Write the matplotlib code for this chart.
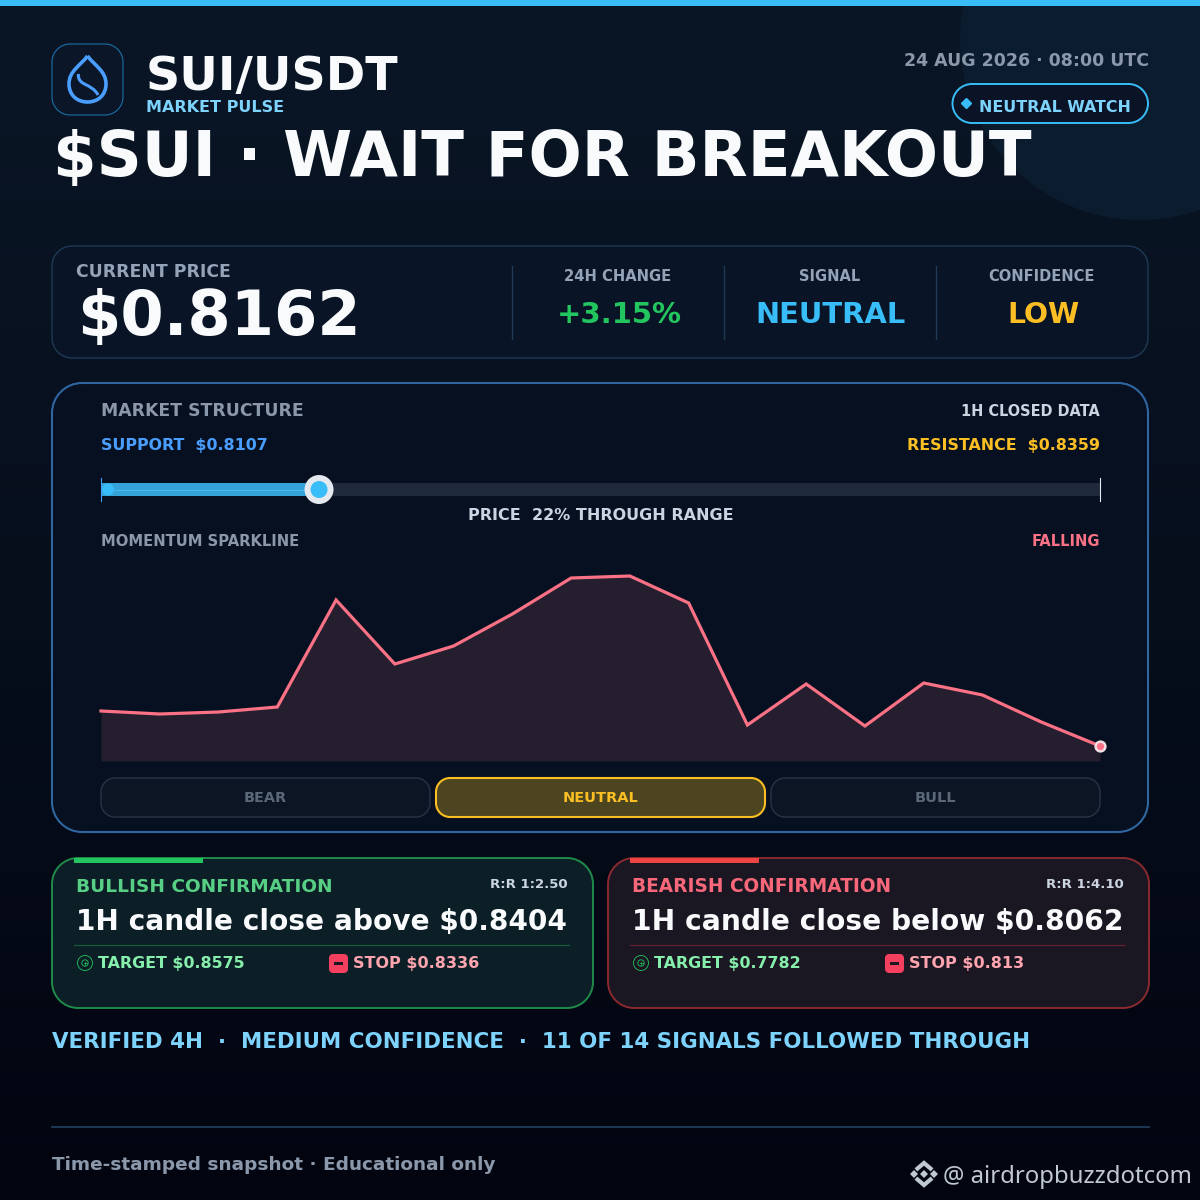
import numpy as np
import matplotlib
matplotlib.use("Agg")
import matplotlib.pyplot as plt
from matplotlib.patches import Circle, PathPatch, Rectangle
from matplotlib.path import Path

# data
support = 0.8107
resistance = 0.8359
price = 0.8162
spark_values = [50, 47, 49, 54, 161, 97, 115, 147, 183, 185, 158, 36, 77, 35, 78, 66, 39, 15]
stat_labels = ["24H CHANGE", "SIGNAL", "CONFIDENCE"]
stat_values = ["+3.15%", "NEUTRAL", "LOW"]
stat_colors = ["#22c55e", "#38bdf8", "#fbbf24"]
bias_labels = ["BEAR", "NEUTRAL", "BULL"]

fig = plt.figure(figsize=(12, 12), dpi=100)
ax = fig.add_axes([0, 0, 1, 1])
ax.set_xlim(0, 1200)
ax.set_ylim(1200, 0)
ax.axis("off")
renderer = fig.canvas.get_renderer()


def txt(x, y, s, px, color, w=None, ha="left", weight="bold", family="DejaVu Sans", z=10):
    # px is the font size in pixels, w squeezes the text to a measured width
    t = ax.text(x, y, s, fontsize=px * 0.72, color=color, ha=ha, va="baseline",
                fontweight=weight, family=family, zorder=z)
    if w is not None:
        bb = t.get_window_extent(renderer)
        t.set_fontsize(px * 0.72 * w / bb.width)
    return t


def box(x0, y0, x1, y1, r, fc, ec, lw=1.0, z=2):
    # rounded box with proper circular corners
    k = r * 0.448
    verts = [(x0 + r, y0), (x1 - r, y0),
             (x1 - k, y0), (x1, y0 + k), (x1, y0 + r), (x1, y1 - r),
             (x1, y1 - k), (x1 - k, y1), (x1 - r, y1), (x0 + r, y1),
             (x0 + k, y1), (x0, y1 - k), (x0, y1 - r), (x0, y0 + r),
             (x0, y0 + k), (x0 + k, y0), (x0 + r, y0), (x0 + r, y0)]
    codes = [Path.MOVETO, Path.LINETO,
             Path.CURVE4, Path.CURVE4, Path.CURVE4, Path.LINETO,
             Path.CURVE4, Path.CURVE4, Path.CURVE4, Path.LINETO,
             Path.CURVE4, Path.CURVE4, Path.CURVE4, Path.LINETO,
             Path.CURVE4, Path.CURVE4, Path.CURVE4, Path.CLOSEPOLY]
    p = PathPatch(Path(verts, codes), fc=fc, ec=ec, lw=lw, zorder=z)
    ax.add_patch(p)
    return p


# background
grad = np.linspace(0, 1, 256)[:, None]
top = np.array([10, 22, 38]) / 255
bottom = np.array([2, 5, 16]) / 255
ramp = top + (bottom - top) * grad[:, :, None] ** 1.1
ax.imshow(ramp, extent=[0, 1200, 1200, 0], aspect="auto", zorder=0)
ax.set_xlim(0, 1200)
ax.set_ylim(1200, 0)
ax.add_patch(Circle((1140, 40), 180, fc="#0b1c2e", ec="none", zorder=1))
ax.add_patch(Rectangle((0, 0), 1200, 6, fc="#38bdf8", ec="none", zorder=3))

# logo
box(52, 44, 123, 115, 18, "#0b1728", "#1a6fa8", 0.8)
drop = Path([(87.5, 56), (80, 66), (69, 71), (69, 84), (69, 95), (77, 102), (87.5, 102),
             (98, 102), (106, 95), (106, 84), (106, 71), (95, 66), (87.5, 56)],
            [Path.MOVETO] + [Path.CURVE4] * 12)
ax.add_patch(PathPatch(drop, fc="none", ec="#4a9eff", lw=2.6, zorder=4))
swirl = Path([(78.5, 74), (77, 86), (92, 83), (98, 95)],
             [Path.MOVETO] + [Path.CURVE4] * 3)
ax.add_patch(PathPatch(swirl, fc="none", ec="#4a9eff", lw=2.2, zorder=4))

# header
txt(146, 90, "SUI/USDT", 48, "#f8fafc", w=252)
txt(146, 112, "MARKET PULSE", 16, "#7dd3fc", w=138)
txt(53, 176, "$SUI · WAIT FOR BREAKOUT", 64, "#f8fafc", w=978)
txt(1149, 66, "24 AUG 2026 · 08:00 UTC", 17, "#8b98ab", w=245, ha="right")
box(952.5, 84, 1148, 123, 19.5, "#0a1426", "#38bdf8", 1.4, z=4)
ax.plot([966], [103], marker="D", ms=5, color="#38bdf8", zorder=5)
txt(979, 112, "NEUTRAL WATCH", 16.5, "#7dd3fc", w=152)

# price panel
box(52, 246, 1148, 358, 20, "#091426", "#1e3a55", 1.0)
txt(76, 277, "CURRENT PRICE", 15, "#94a3b8", w=155)
txt(77, 335, f"${price}", 62, "#f8fafc", w=284)
for xs in [512, 724, 936]:
    ax.plot([xs, xs], [266, 339], color="#1e3a55", lw=1, zorder=3)
stat_w = [107, 61, 106]
val_w = [125, 151, 72]
for xc, lab, val, col, lw_, vw in zip([618, 830, 1042], stat_labels, stat_values, stat_colors, stat_w, val_w):
    txt(xc - 0.5, 281, lab, 14, "#94a3b8", ha="center", w=lw_)
    txt(xc + 1, 323, val, 28, col, ha="center", w=vw)

# market structure panel
box(52, 383, 1148, 832, 30, "#061020", "#2f66a0", 1.5)
txt(101, 416, "MARKET STRUCTURE", 16, "#8b98ab", w=202)
txt(1100, 416, "1H CLOSED DATA", 14, "#cbd5e1", w=139, ha="right")
txt(101, 450, f"SUPPORT  ${support}", 15, "#4a9eff", w=168)
txt(1100, 450, f"RESISTANCE  ${resistance}", 15, "#fbbf24", w=194, ha="right")

# range bar
frac = (price - support) / (resistance - support)
bar_x0, bar_x1 = 101, 1100
handle_x = bar_x0 + frac * (bar_x1 - bar_x0)
ax.add_patch(Rectangle((bar_x0, 483), bar_x1 - bar_x0, 13, fc="#1e293b", ec="none", zorder=3))
ax.add_patch(Rectangle((bar_x0, 483), handle_x - bar_x0, 13, fc="#34a3d8", ec="none", zorder=4))
ax.plot([bar_x0, handle_x], [489.5, 489.5], color="#4fc3f7", lw=0.5, zorder=5)
ax.plot([101, 101], [478, 501], color="#4a9eff", lw=0.8, zorder=6)
ax.plot([1100, 1100], [478, 501], color="#e5e9ef", lw=0.8, zorder=6)
ax.add_patch(Circle((108, 489.5), 6, fc="#38bdf8", ec="none", zorder=6))
ax.add_patch(Circle((handle_x, 489.5), 14.5, fc="#e5e9ef", ec="none", zorder=6))
ax.add_patch(Circle((handle_x, 489.5), 8.5, fc="#38bdf8", ec="none", zorder=7))
txt(601, 520, f"PRICE  {round(frac * 100)}% THROUGH RANGE", 16, "#cbd5e1", w=266, ha="center")
txt(101, 546, "MOMENTUM SPARKLINE", 14, "#8b98ab", w=197)
txt(1100, 546, "FALLING", 14, "#fb7185", w=68, ha="right")

# sparkline
sp = fig.add_axes([101 / 1200, 1 - 761 / 1200, 999 / 1200, 201 / 1200], zorder=5)
sp.patch.set_alpha(0)
sp.axis("off")
xs = np.arange(len(spark_values))
sp.set_xlim(0, len(spark_values) - 1)
sp.set_ylim(0, 201)
sp.fill_between(xs, spark_values, 0, color="#241e2e", lw=0)
sp.plot(xs, spark_values, color="#fb7185", lw=2.3, solid_joinstyle="miter", clip_on=False)
sp.plot(xs[-1], spark_values[-1], "o", ms=7, mfc="#fb7185", mec="#f3dfe3", mew=1.8, clip_on=False)

# bias buttons
bias_w = [43, 75, 41]
for (x0, x1), lab, bw in zip([(101, 430), (436, 765), (771, 1100)], bias_labels, bias_w):
    on = lab == "NEUTRAL"
    box(x0, 778, x1, 817, 14, "#4d451f" if on else "#0b1524", "#fbbf24" if on else "#263545",
        1.5 if on else 1.0, z=4)
    txt((x0 + x1) / 2, 802, lab, 14, "#fbbf24" if on else "#5b6878", ha="center", w=bw)


# scenario cards
def target_icon(x, y):
    ax.add_patch(Circle((x, y), 7.5, fc="none", ec="#22c55e", lw=0.6, zorder=6))
    ax.add_patch(Circle((x, y), 3.2, fc="none", ec="#22c55e", lw=0.6, zorder=6))
    ax.plot([x - 1.5, x + 1.5], [y, y], color="#22c55e", lw=0.5, zorder=6)
    ax.plot([x, x], [y - 1.5, y + 1.5], color="#22c55e", lw=0.5, zorder=6)


def stop_icon(x, y):
    box(x, y, x + 19, y + 19, 4, "#f43f5e", "none", z=6)
    ax.add_patch(Rectangle((x + 5, y + 8), 9, 3, fc="#1a1622", ec="none", zorder=7))


def card(x0, fc, ec, rule, strip, title_col, title, rr, head, target, stop, title_w, stop_w):
    x1 = x0 + 541
    box(x0, 858, x1, 1008, 26, fc, ec, 1.4)
    ax.add_patch(Rectangle((x0 + 22, 858), 129, 4.5, fc=strip, ec="none", zorder=4))
    txt(x0 + 24, 892, title, 20, title_col, w=title_w)
    txt(x1 - 25, 888, rr, 12, "#cbd5e1", ha="right", w=78)
    txt(x0 + 24, 930, head, 28, "#f8fafc", w=491)
    ax.plot([x0 + 22, x1 - 24], [944.5, 944.5], color=rule, lw=0.9, zorder=4)
    target_icon(x0 + 33, 963)
    txt(x0 + 46, 968, target, 16, "#86efac", w=147)
    stop_icon(x0 + 277, 954)
    txt(x0 + 301, 968, stop, 16, "#fda4af", w=stop_w)


card(52, "#0c1f26", "#1f8a4a", "#1a5a3a", "#22c55e", "#57cf85", "BULLISH CONFIRMATION", "R:R 1:2.50",
     "1H candle close above $0.8404", "TARGET $0.8575", "STOP $0.8336", 256, 126)
card(608, "#1a1622", "#8a2a30", "#5f2229", "#ef4444", "#f8687a", "BEARISH CONFIRMATION", "R:R 1:4.10",
     "1H candle close below $0.8062", "TARGET $0.7782", "STOP $0.813", 259, 115)

# footer
txt(52, 1048, "VERIFIED 4H  ·  MEDIUM CONFIDENCE  ·  11 OF 14 SIGNALS FOLLOWED THROUGH", 20, "#7dd3fc", w=978)
ax.plot([52, 1149], [1127, 1127], color="#23405e", lw=1.2, zorder=3)
txt(52, 1170, "Time-stamped snapshot · Educational only", 19, "#8b98ab", w=445)

# watermark
wm = "#c0c8d4"
for dx, ms in [(0, 4.2), (-10, 3.6), (10, 3.6)]:
    ax.plot([924 + dx], [1174], marker="D", ms=ms, color=wm, mew=0, zorder=6)
ax.plot([917.5, 924, 930.5], [1168.5, 1163, 1168.5], color=wm, lw=3, solid_joinstyle="miter", zorder=6)
ax.plot([917.5, 924, 930.5], [1179.5, 1185, 1179.5], color=wm, lw=3, solid_joinstyle="miter", zorder=6)
txt(943, 1183, "@ airdropbuzzdotcom", 23, wm, w=249, weight="normal", family="Noto Sans")

fig.savefig("out.png", dpi=100, facecolor="#02050f")
